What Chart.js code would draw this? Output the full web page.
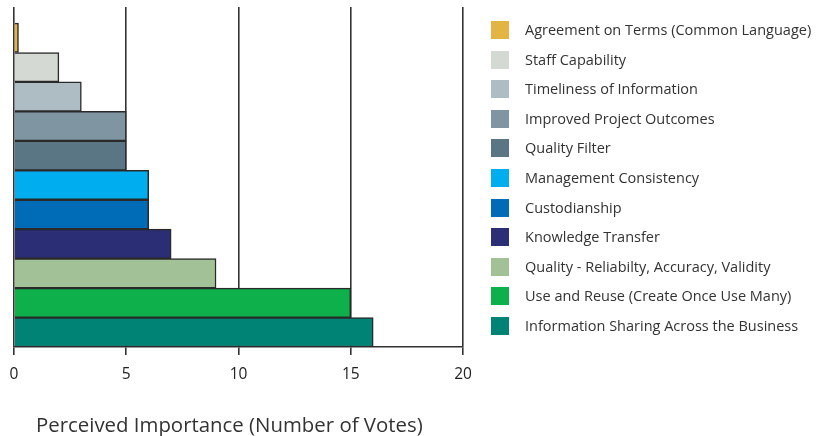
<!DOCTYPE html>
<html>
<head>
<meta charset="utf-8">
<script src="https://cdn.jsdelivr.net/npm/chart.js@4/dist/chart.umd.min.js"></script>
<style>
  html, body { margin: 0; padding: 0; background: #fff; }
  #wrap { position: relative; width: 820px; height: 436px; }
  #c { position: absolute; left: 0; top: 0; }
  #legend { position: absolute; left: 491px; top: 21px; font-family: "Open Sans", sans-serif; font-size: 14.5px; color: #333; }
  .row { position: absolute; left: 0; height: 18px; white-space: nowrap; }
  .box { position: absolute; left: 0; top: 0; width: 18px; height: 18px; }
  .lbl { position: absolute; left: 34px; top: 0; line-height: 18px; }
  #xtitle { position: absolute; left: 36px; top: 410px; font-family: "Open Sans", sans-serif; font-size: 20.4px; color: #333; line-height: 28px; white-space: nowrap; }
</style>
</head>
<body>
<div id="wrap">
  <canvas id="c" width="820" height="436"></canvas>
  <div id="legend"></div>
  <div id="xtitle"></div>
</div>
<script>
// Categories, listed top to bottom
const categories = [
  "Agreement on Terms (Common Language)",
  "Staff Capability",
  "Timeliness of Information",
  "Improved Project Outcomes",
  "Quality Filter",
  "Management Consistency",
  "Custodianship",
  "Knowledge Transfer",
  "Quality - Reliabilty, Accuracy, Validity",
  "Use and Reuse (Create Once Use Many)",
  "Information Sharing Across the Business"
];
// Number of votes per category
const votes = [0.2, 2, 3, 5, 5, 6, 6, 7, 9, 15, 16];
const colors = [
  "#E2B443", "#D4D9D3", "#AEBCC4", "#7F96A2", "#5A7584",
  "#00AEEF", "#006BB6", "#2B2E74", "#A3C196", "#0DB04B", "#008375"
];
const xTicks = [0, 5, 10, 15, 20];
const xTitle = "Perceived Importance (Number of Votes)";

const points = categories.map((c, i) => ({ x: votes[i], y: i }));

new Chart(document.getElementById('c'), {
  type: 'bar',
  data: {
    labels: categories,
    datasets: [{
      data: points,
      backgroundColor: colors,
      borderColor: '#2a2a2a',
      borderWidth: 1.5,
      borderSkipped: 'left',
      barThickness: 29.45
    }]
  },
  options: {
    indexAxis: 'y',
    responsive: false,
    animation: false,
    layout: { padding: { left: 14, top: 7, right: 357, bottom: 42 } },
    plugins: { legend: { display: false }, tooltip: { enabled: false } },
    scales: {
      y: {
        type: 'linear',
        reverse: true,
        offset: false,
        min: -1.045,
        max: 10.5,
        display: false
      },
      x: {
        type: 'linear',
        min: 0,
        max: 20,
        afterBuildTicks: (s) => { s.ticks = xTicks.map(v => ({ value: v })); },
        grid: { color: '#333', lineWidth: 1.6, tickLength: 8, drawOnChartArea: true },
        border: { display: true, color: '#333', width: 1.6 },
        ticks: { color: '#222', padding: 4, font: { family: 'Open Sans', size: 15.5, lineHeight: 2.0 } }
      }
    }
  }
});

const lg = document.getElementById('legend');
categories.forEach((c, i) => {
  const r = document.createElement('div');
  r.className = 'row';
  r.style.top = (i * 29.6) + 'px';
  r.innerHTML = '<div class="box" style="background:' + colors[i] + '"></div><div class="lbl"></div>';
  r.querySelector('.lbl').textContent = c;
  lg.appendChild(r);
});
document.getElementById('xtitle').textContent = xTitle;
</script>
</body>
</html>
